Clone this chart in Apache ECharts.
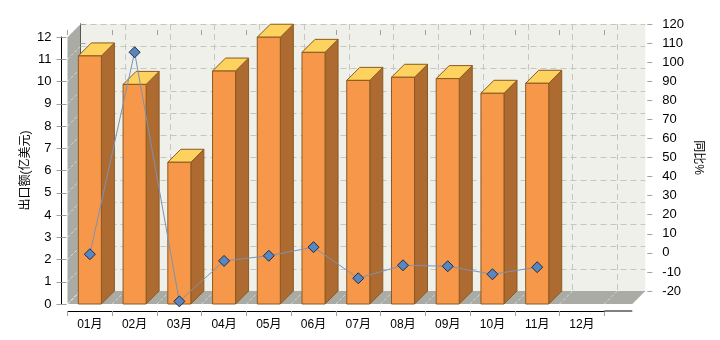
<!DOCTYPE html>
<html><head><meta charset="utf-8">
<script src="https://cdn.jsdelivr.net/npm/echarts@6/dist/echarts.min.js"></script>
<style>html,body{margin:0;padding:0;background:#fff}#c{width:720px;height:340px}</style>
</head><body><div id="c"></div>
<script>
// ---- data ----
const categories = ['01月','02月','03月','04月','05月','06月','07月','08月','09月','10月','11月','12月'];
const exportValues = [11.15, 9.87, 6.37, 10.47, 11.99, 11.31, 10.05, 10.19, 10.13, 9.47, 9.92, null];
const yoyValues = [6.1, 112.0, -18.6, 2.6, 5.3, 9.8, -6.5, 0.3, -0.2, -4.4, -0.7, null];
const leftAxisName = '出口额(亿美元)';
const rightAxisName = '同比%';
const leftTicks = {min: 0, max: 12, interval: 1};
const rightTicks = {min: -20, max: 120, interval: 10};

// ---- style / layout ----
const D = 13;          // 3D depth offset
const EXTRA = 28;      // floor extension beyond last category
const FONT = '"Liberation Sans", "Noto Sans CJK SC", sans-serif';
const GRID0 = {left: 67.5, top: 37, width: 536.8, height: 267};
const wallColor = '#F0F0EA';
const sideColor = '#A9ABA4';
const dashColor = '#C6C6C2';

const chart = echarts.init(document.getElementById('c'), null, {renderer: 'canvas'});

function decoRender(params, api) {
  const cs = params.coordSys;
  const left = cs.x, right = cs.x + cs.width, top = cs.y, bottom = cs.y + cs.height;
  const floorRight = right + EXTRA;
  const bw = api.size([1, 0])[0];
  const children = [];
  children.push({type: 'polygon', shape: {points: [[left, top], [left + D, top - D], [left + D, bottom - D], [left, bottom]]},
    style: {fill: sideColor}});
  children.push({type: 'polygon', shape: {points: [[left, bottom], [left + D, bottom - D], [floorRight + D, bottom - D], [floorRight, bottom]]},
    style: {fill: sideColor}});
  for (let v = leftTicks.min; v <= leftTicks.max; v += leftTicks.interval) {
    const y = api.coord([0, v])[1];
    children.push({type: 'line', shape: {x1: left, y1: y, x2: left + D, y2: y - D},
      style: {stroke: 'rgba(255,255,255,0.55)', lineWidth: 1, lineDash: [3, 2]}});
  }
  for (let i = 0; i <= categories.length; i++) {
    const x = api.coord([Math.min(i, categories.length - 1), 0])[0] + (i === categories.length ? bw / 2 : -bw / 2);
    children.push({type: 'line', shape: {x1: x, y1: bottom, x2: x + D, y2: bottom - D},
      style: {stroke: 'rgba(255,255,255,0.55)', lineWidth: 1, lineDash: [3, 2]}});
  }
  children.push({type: 'line', shape: {x1: right, y1: bottom + 7, x2: floorRight, y2: bottom + 7},
    style: {stroke: '#000', lineWidth: 1}});
  return {type: 'group', children};
}

function barRender(params, api) {
  const v = api.value(1);
  if (v == null || isNaN(v)) return null;
  const idx = api.value(0);
  const p = api.coord([idx, v]);
  const b = api.coord([idx, 0]);
  const bw = api.size([1, 0])[0];
  const w = bw * 0.515;
  const x0 = p[0] - w / 2, x1 = p[0] + w / 2, yT = p[1], yB = b[1];
  const stroke = '#8A5A22';
  return {type: 'group', children: [
    {type: 'polygon', shape: {points: [[x1, yT], [x1 + D, yT - D], [x1 + D, yB - D], [x1, yB]]},
      style: {fill: '#AD6A31', stroke: stroke, lineWidth: 1}},
    {type: 'polygon', shape: {points: [[x0, yT], [x0 + D, yT - D], [x1 + D, yT - D], [x1, yT]]},
      style: {fill: '#FDD25E', stroke: stroke, lineWidth: 1}},
    {type: 'rect', shape: {x: x0, y: yT, width: w, height: yB - yT},
      style: {fill: '#F79749', stroke: stroke, lineWidth: 1}}
  ]};
}

const tickGray = '#A0A0A0';
const option = {
  animation: false,
  grid: [
    {left: GRID0.left, top: GRID0.top, width: GRID0.width, height: GRID0.height},
    {left: GRID0.left + D, top: GRID0.top - D, width: GRID0.width + EXTRA, height: GRID0.height,
      show: true, backgroundColor: wallColor, borderWidth: 0},
    {left: GRID0.left + D, top: GRID0.top - D, width: GRID0.width, height: GRID0.height}
  ],
  xAxis: [
    {gridIndex: 0, type: 'category', data: categories, offset: 7,
      axisLine: {onZero: false, lineStyle: {color: '#000', width: 1}},
      axisTick: {show: true, length: 5, lineStyle: {color: tickGray}},
      axisLabel: {color: '#000', fontSize: 12, fontFamily: FONT, margin: 8},
      splitLine: {show: false}},
    {gridIndex: 0, type: 'category', data: categories, offset: 7,
      axisLine: {show: false, onZero: false}, axisTick: {show: true, inside: true, length: 5, lineStyle: {color: tickGray}},
      axisLabel: {show: false}, splitLine: {show: false}},
    {gridIndex: 1, type: 'value', min: 0, max: 1, show: false},
    {gridIndex: 2, type: 'category', data: categories,
      axisLine: {show: false}, axisTick: {show: false}, axisLabel: {show: false},
      splitLine: {show: true, lineStyle: {color: dashColor, type: [6, 4], width: 1}}}
  ],
  yAxis: [
    {gridIndex: 0, type: 'value', position: 'left', offset: 6, ...leftTicks,
      name: leftAxisName, nameLocation: 'middle', nameRotate: 90, nameGap: 30, nameMoveOverlap: false,
      nameTextStyle: {color: '#000', fontSize: 12, fontFamily: FONT},
      axisLine: {show: true, lineStyle: {color: '#000', width: 1}},
      axisTick: {show: true, length: 5, lineStyle: {color: tickGray}},
      axisLabel: {color: '#000', fontSize: 13, fontFamily: FONT, margin: 10},
      splitLine: {show: false}},
    {gridIndex: 0, type: 'value', position: 'left', offset: 6, ...leftTicks,
      axisLine: {show: false}, axisTick: {show: true, inside: true, length: 5, lineStyle: {color: tickGray}},
      axisLabel: {show: false}, splitLine: {show: false}},
    {gridIndex: 0, type: 'value', position: 'right', ...rightTicks, show: false},
    {gridIndex: 1, type: 'value', position: 'right', offset: 7, ...rightTicks,
      name: rightAxisName, nameLocation: 'middle', nameRotate: -90, nameGap: 40, nameMoveOverlap: false,
      nameTextStyle: {color: '#000', fontSize: 12, fontFamily: FONT},
      axisLine: {show: true, lineStyle: {color: '#000', width: 1}},
      axisTick: {show: true, length: 5, lineStyle: {color: tickGray}},
      axisLabel: {color: '#000', fontSize: 13, fontFamily: FONT, margin: 10},
      splitLine: {show: false}},
    {gridIndex: 1, type: 'value', position: 'right', offset: 7, ...rightTicks,
      axisLine: {show: false}, axisTick: {show: true, inside: true, length: 5, lineStyle: {color: tickGray}},
      axisLabel: {show: false}, splitLine: {show: false}},
    {gridIndex: 1, type: 'value', position: 'left', ...leftTicks,
      axisLine: {show: false}, axisTick: {show: false}, axisLabel: {show: false},
      splitLine: {show: true, lineStyle: {color: dashColor, type: [6, 4], width: 1}}},
    {gridIndex: 2, type: 'value', min: 0, max: 1, show: false}
  ],
  series: [
    {type: 'custom', xAxisIndex: 0, yAxisIndex: 0, renderItem: decoRender, data: [[0, 0]], z: 1, silent: true},
    {type: 'custom', xAxisIndex: 0, yAxisIndex: 0, renderItem: barRender,
      data: exportValues.map((v, i) => [i, v]), z: 3, silent: true},
    {type: 'line', xAxisIndex: 0, yAxisIndex: 2, data: yoyValues, z: 10, clip: false,
      symbol: 'diamond', symbolSize: 11, showAllSymbol: true,
      lineStyle: {color: '#7B92B4', width: 1},
      itemStyle: {color: '#5786C1', borderColor: '#1E2D44', borderWidth: 1}}
  ]
};
chart.setOption(option);
</script>
</body></html>
